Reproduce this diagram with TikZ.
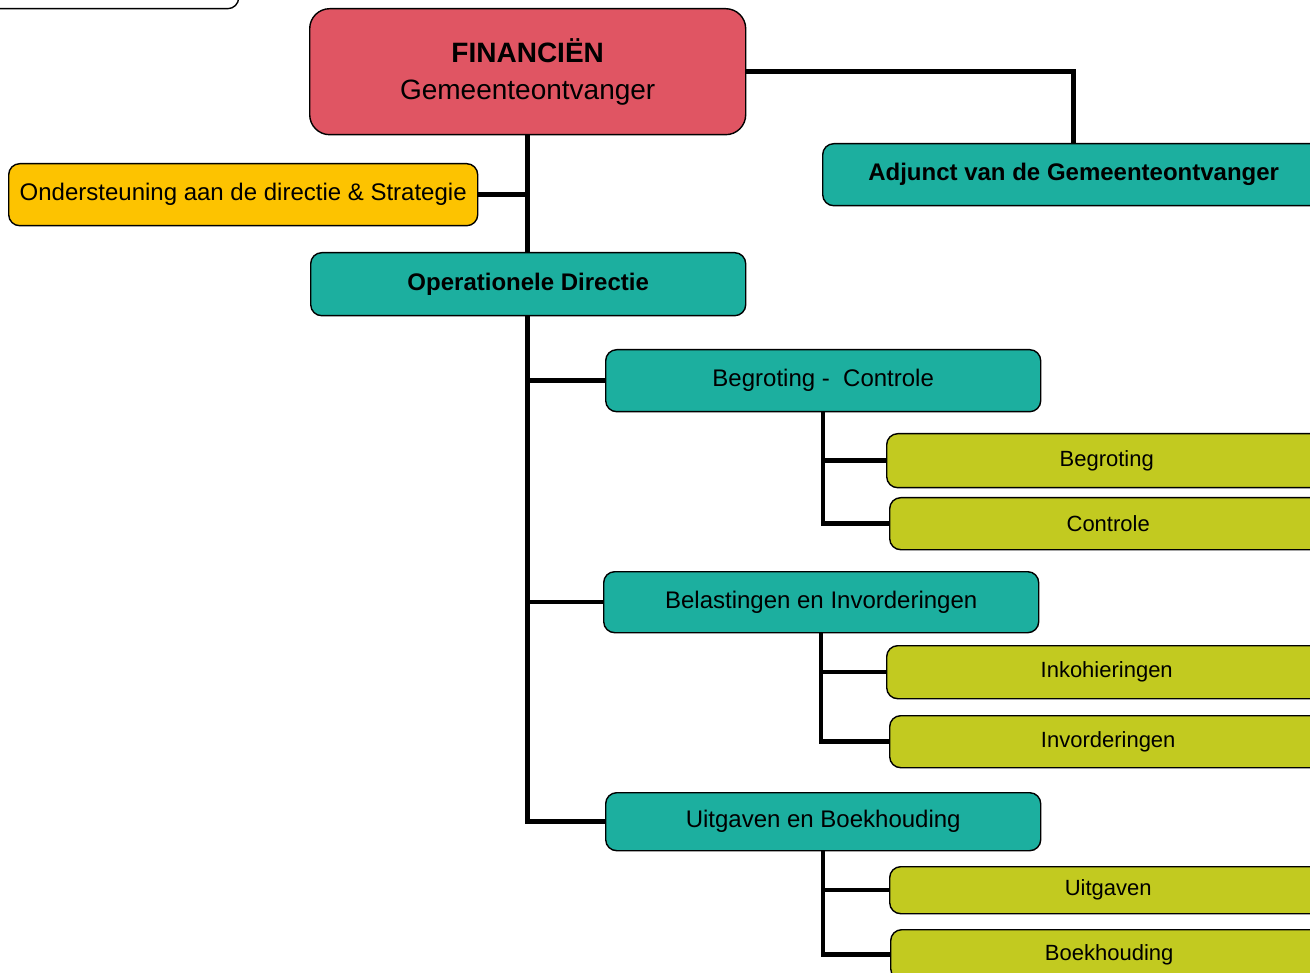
\documentclass[tikz,border=0pt]{standalone}
\usepackage{fontspec}
\setmainfont{Liberation Sans}
\usetikzlibrary{backgrounds}
\begin{document}
\begin{tikzpicture}[x=1pt,y=-1pt,
  box/.style={draw=black,line width=1.4pt,rounded corners=11pt,inner sep=0pt,anchor=north west},
  red/.style={box,fill=finred,rounded corners=20pt},
  teal/.style={box,fill=boxteal},
  yel/.style={box,fill=boxyel},
  olive/.style={box,fill=boxolive},
  conn/.style={line width=4.5pt,line join=miter}]
\definecolor{finred}{HTML}{E05563}
\definecolor{boxteal}{HTML}{1CAF9F}
\definecolor{boxyel}{HTML}{FDC300}
\definecolor{boxolive}{HTML}{C2CA20}
\clip (0,0) rectangle (1310,973);
\useasboundingbox (0,0) rectangle (1310,973);
% partial box top-left
\node[box,fill=white,minimum width=268pt,minimum height=48pt] (top) at (-30,-40) {};
% nodes
\node[red,minimum width=436pt,minimum height=126pt,align=center,font=\fontsize{28}{37}\selectfont] (fin) at (309,8) {\textbf{FINANCIËN}\\Gemeenteontvanger};
\node[yel,minimum width=469pt,minimum height=62pt,font=\fontsize{24}{28}\selectfont] (ond) at (8,163) {Ondersteuning aan de directie \& Strategie};
\node[teal,minimum width=502pt,minimum height=62pt,font=\bfseries\fontsize{24}{28}\selectfont] (adj) at (822,143) {Adjunct van de Gemeenteontvanger};
\node[teal,minimum width=435pt,minimum height=63pt,font=\bfseries\fontsize{24}{28}\selectfont] (ops) at (310,252) {Operationele Directie};
\node[teal,minimum width=435pt,minimum height=62pt,font=\fontsize{24}{28}\selectfont] (bc) at (605,349) {Begroting -\ \ Controle};
\node[olive,minimum width=440pt,minimum height=54pt,font=\fontsize{22}{26}\selectfont] (beg) at (886,433) {Begroting};
\node[olive,minimum width=437pt,minimum height=52pt,font=\fontsize{22}{26}\selectfont] (con) at (889,497) {Controle};
\node[teal,minimum width=435pt,minimum height=61pt,font=\fontsize{24}{28}\selectfont] (bel) at (603,571) {Belastingen en Invorderingen};
\node[olive,minimum width=440pt,minimum height=53pt,font=\fontsize{22}{26}\selectfont] (ink) at (886,645) {Inkohieringen};
\node[olive,minimum width=437pt,minimum height=52pt,font=\fontsize{22}{26}\selectfont] (inv) at (889,715) {Invorderingen};
\node[teal,minimum width=435pt,minimum height=58pt,font=\fontsize{24}{28}\selectfont] (uib) at (605,792) {Uitgaven en Boekhouding};
\node[olive,minimum width=437pt,minimum height=47pt,font=\fontsize{22}{26}\selectfont] (uit) at (889,866) {Uitgaven};
\node[olive,minimum width=437pt,minimum height=50pt,font=\fontsize{22}{26}\selectfont] (boe) at (890,929) {Boekhouding};
% connectors (behind boxes)
\begin{scope}[on background layer]
\fill[white] (0,0) rectangle (1310,973);
\draw[conn] (fin.east) -- (fin.east -| adj.north) -- (adj.north);
\draw[conn] (fin.south) -- (fin.south |- uib.west) -- (uib.west);
\draw[conn] (ond.east) -- (ond.east -| fin.south);
\draw[conn] (fin.south |- bc.west) -- (bc.west);
\draw[conn] (fin.south |- bel.west) -- (bel.west);
\draw[conn] (bc.south) -- (bc.south |- con.west) -- (con.west);
\draw[conn] (bc.south |- beg.west) -- (beg.west);
\draw[conn] (bel.south) -- (bel.south |- inv.west) -- (inv.west);
\draw[conn] (bel.south |- ink.west) -- (ink.west);
\draw[conn] (uib.south) -- (uib.south |- boe.west) -- (boe.west);
\draw[conn] (uib.south |- uit.west) -- (uit.west);
\end{scope}
\end{tikzpicture}
\end{document}
